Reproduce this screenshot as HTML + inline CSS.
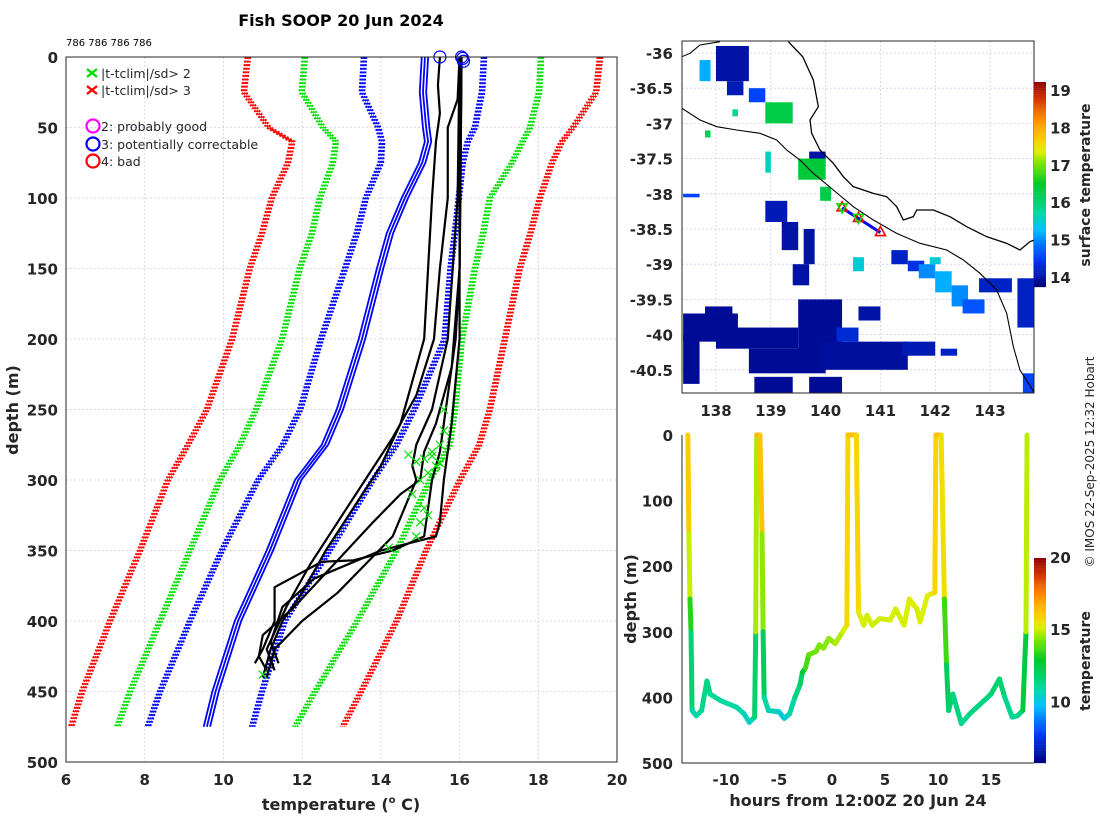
<!DOCTYPE html>
<html><head><meta charset="utf-8"><style>
html,body{margin:0;padding:0;background:#fff;}
svg{display:block;font-family:"DejaVu Sans","Liberation Sans",sans-serif;}
.tk{font-size:15px;font-weight:bold;fill:#262626;}
</style></head><body>
<svg id="fig" width="1100" height="820" viewBox="0 0 1100 820" xmlns="http://www.w3.org/2000/svg">
<text x="341" y="26" text-anchor="middle" font-size="16" font-weight="bold">Fish SOOP 20 Jun 2024</text>
<text x="66" y="46" font-size="10">786 786 786 786</text>
<text transform="translate(18,410) rotate(-90)" text-anchor="middle" font-size="16" font-weight="bold" fill="#262626">depth (m)</text>
<text x="341" y="810" text-anchor="middle" font-size="16" font-weight="bold" fill="#262626">temperature (<tspan font-size="10" dy="-7">o</tspan><tspan dy="7"> C)</tspan></text>
<text transform="translate(636,599) rotate(-90)" text-anchor="middle" font-size="16" font-weight="bold" fill="#262626">depth (m)</text>
<text x="858" y="806" text-anchor="middle" font-size="16" font-weight="bold" fill="#262626">hours from 12:00Z 20 Jun 24</text>
<text transform="translate(1090,185) rotate(-90)" text-anchor="middle" font-size="14" font-weight="bold" fill="#262626">surface temperature</text>
<text transform="translate(1090,661) rotate(-90)" text-anchor="middle" font-size="14" font-weight="bold" fill="#262626">temperature</text>
<text transform="translate(1094,462) rotate(-90)" text-anchor="middle" font-size="12" fill="#262626">© IMOS 22-Sep-2025 12:32 Hobart</text>
<g id="left"></g>
<g id="map"></g>
<g id="br"></g>
</svg>
<script>
// ---------- data: left profile plot ----------
const climDepths = [0,25,50,60,75,100,125,150,200,250,275,300,350,400,450,475];
const redLeft   = [10.62,10.52,11.15,11.75,11.64,11.23,10.98,10.67,10.22,9.58,9.10,8.59,7.88,7.12,6.41,6.13];
const greenLeft = [12.07,11.99,12.53,12.86,12.78,12.45,12.25,11.94,11.49,10.83,10.42,9.91,9.15,8.39,7.63,7.30];
const blueLeft  = [13.57,13.52,13.93,14.03,14.00,13.62,13.39,13.09,12.48,11.95,11.51,10.88,9.96,9.15,8.39,8.08];
const blueSolid = [15.12,15.07,15.15,15.20,15.05,14.61,14.23,13.98,13.52,12.96,12.58,11.90,11.18,10.37,9.80,9.58];
const blueRight = [16.62,16.57,16.39,16.21,16.08,15.98,15.88,15.77,15.62,14.85,14.40,13.80,12.70,11.56,10.98,10.73];
const greenRight= [18.07,18.02,17.79,17.60,17.33,16.77,16.60,16.39,16.06,15.88,15.75,15.25,14.40,13.40,12.33,11.82];
const redRight  = [19.57,19.47,18.88,18.60,18.35,18.04,17.80,17.53,17.15,16.77,16.50,16.01,15.15,14.40,13.50,13.03];
const prof1 = [[0,16.05],[100,16.02],[150,16.0],[200,15.9],[250,15.65],[280,15.5],[300,15.3],[320,15.2],[340,15.1],[350,14.3],[357,13.3],[358,12.5],[376,11.3],[400,11.3],[420,11.0],[430,10.8]];
const prof2 = [[0,15.5],[20,15.45],[40,15.5],[60,15.4],[100,15.3],[150,15.2],[200,15.1],[230,14.8],[260,14.5],[290,14.0],[320,13.3],[350,12.6],[380,12.0],[400,11.5],[420,11.2],[440,11.0]];
const prof3 = [[0,16.0],[30,15.95],[50,15.7],[100,15.7],[150,15.5],[200,15.35],[240,14.9],[270,14.3],[300,13.6],[330,12.9],[360,12.2],[390,11.6],[420,11.1],[435,11.3]];
const prof4 = [[0,16.0],[100,15.95],[200,15.7],[250,15.3],[275,14.9],[290,14.8],[300,14.9],[320,14.6],[340,14.3],[360,13.6],[380,12.9],[400,12.0],[420,11.3],[440,11.1]];
const prof5 = [[0,16.05],[150,16.0],[220,15.8],[260,15.4],[280,15.1],[300,15.0],[310,14.5],[330,13.8],[360,12.8],[390,11.8],[410,11.0],[425,10.9],[435,11.1]];
const prof6 = [[0,16.0],[200,16.0],[260,15.8],[300,15.6],[330,15.5],[340,15.4],[345,14.7],[350,14.0],[370,12.3],[390,11.5],[415,11.2],[430,11.4]];
const flagT = [15.6,15.6,15.5,15.3,15.1,15.4,15.2,15.0,14.8,15.1,15.0,15.2,14.9,14.2,15.3,15.5,14.7,14.9,11.0];
const flagD = [250,265,275,280,285,290,295,300,310,320,330,325,340,348,283,288,282,287,438];
const circT = [15.5,16.05,16.08,16.1];
const circD = [0,0,1,3];
const xTicks = [6,8,10,12,14,16,18,20];
const yTicks = [0,50,100,150,200,250,300,350,400,450,500];
// ---------- data: depth-time plot ----------
const hrs   = [-13.6,-13.5,-13.4,-13.3,-13.2,-12.8,-12.3,-11.8,-11.5,-10.5,-9,-8.3,-7.8,-7.3,-7.2,-7.1,-6.8,-6.6,-6.5,-6.4,-6,-5,-4.5,-4,-3.5,-3,-2.8,-2.5,-2.2,-1.5,-1.2,-0.8,-0.3,0.3,1,1.4,1.5,2.3,2.5,3,3.3,3.8,4.5,5.5,6,6.8,7.3,8,8.3,9,9.7,9.8,10.3,10.6,10.8,11,11.4,12.2,13,15,15.8,16.3,17,17.5,18,18.3,18.4];
const dep   = [0,150,250,300,420,428,420,375,395,405,415,425,438,430,300,0,0,150,300,400,420,422,432,425,400,380,362,355,335,330,320,325,310,318,300,290,0,0,270,290,275,290,280,282,265,290,250,265,285,245,240,0,0,250,350,420,395,440,425,395,372,400,430,428,420,300,0];
const tmp   = [16.4,15.8,14.2,12.5,10.8,10.8,11,11.5,11.2,11,10.9,10.8,10.5,10.6,13,16.5,16.5,16,13,11,10.8,10.5,10,10.5,11.2,11.8,12,13.5,14,14.2,14.3,14.4,14.5,14.6,15,15.2,16.3,16.3,15.4,15,15.2,15,15,15.1,15.2,15,15.3,15.2,15,15.3,15.4,16.3,16.3,14.8,12.5,11.5,12,11,11.2,11.6,11.8,11.5,11,11,11.5,13.5,16.3];
const hTicks = [-10,-5,0,5,10,15];
const dTicks = [0,100,200,300,400,500];
const cb2Ticks = [10,15,20];
// ---------- data: map ----------
const lonTicks = [138,139,140,141,142,143];
const latTicks = [-36,-36.5,-37,-37.5,-38,-38.5,-39,-39.5,-40,-40.5];
const cb1Ticks = [14,15,16,17,18,19];
const sstPatches = [
[137.4,-39.7,138.4,-40.1,13.9],[137.4,-40.0,137.7,-40.7,13.9],[138.0,-39.9,139.5,-40.2,13.9],[138.6,-40.2,140.0,-40.55,13.9],
[139.5,-39.5,140.3,-40.3,13.9],[139.9,-40.1,141.5,-40.5,13.95],[140.6,-39.6,141.0,-39.8,14.0],[141.4,-40.1,142.0,-40.3,14.1],
[138.7,-40.6,139.4,-40.85,13.9],[139.7,-40.6,140.3,-40.85,13.9],[137.8,-39.6,138.3,-39.7,13.9],[143.6,-40.55,143.8,-40.85,14.6],
[143.5,-39.2,143.8,-39.9,14.2],[142.8,-39.2,143.4,-39.4,14.2],[138.0,-35.9,138.6,-36.4,14.0],[138.2,-36.4,138.5,-36.6,14.1],
[137.7,-36.1,137.9,-36.4,15.2],[138.6,-36.5,138.9,-36.7,14.6],[138.9,-36.7,139.4,-37.0,16.3],[139.7,-37.4,140.0,-37.6,14.0],
[139.5,-37.5,140.0,-37.8,16.4],[139.9,-37.9,140.1,-38.1,16.3],[138.9,-38.1,139.3,-38.4,14.1],[139.2,-38.4,139.5,-38.8,14.0],
[139.6,-38.5,139.8,-39.0,14.0],[139.4,-39.0,139.7,-39.3,14.0],[138.9,-37.4,139.0,-37.7,15.6],[140.5,-38.9,140.7,-39.1,15.5],
[141.2,-38.8,141.5,-39.0,14.2],[141.5,-38.95,141.8,-39.1,14.4],[141.7,-39.0,142.0,-39.2,15.0],[142.0,-39.1,142.3,-39.4,15.2],
[142.3,-39.3,142.6,-39.6,15.0],[142.5,-39.5,142.9,-39.7,14.7],[141.9,-38.9,142.1,-39.0,15.5],[137.4,-38.0,137.7,-38.05,14.6],
[140.2,-39.9,140.6,-40.1,14.3],[142.1,-40.2,142.4,-40.3,14.2],[138.3,-36.8,138.4,-36.9,15.8],[137.8,-37.1,137.9,-37.2,16.2]];
const coastLon = [[505,35],[548,80],[580,150],[595,230],[570,270],[575,310],[600,360],[640,400],[670,440],[700,470],[760,490],[800,500],[830,530],[850,570],[880,560],[890,540],[940,540],[990,560],[1040,590],[1100,620],[1160,640],[1200,660],[1230,635],[1243,630]];
const shelfLine = [[186,235],[240,270],[290,290],[350,300],[420,310],[470,330],[500,360],[540,390],[580,430],[640,480],[700,530],[760,570],[830,610],[900,640],[980,660],[1030,690],[1080,730],[1130,780],[1160,850],[1180,950],[1200,1020],[1243,1088]];
const trackLon = [140.3,140.6,141.0];
const trackLat = [-38.2,-38.35,-38.55];

const NS="http://www.w3.org/2000/svg";
function mk(parent,tag,attrs){const e=document.createElementNS(NS,tag);for(const k in attrs)e.setAttribute(k,attrs[k]);parent.appendChild(e);return e;}
function jet(v,lo,hi){
  let f=Math.max(0,Math.min(1,(v-lo)/(hi-lo)));
  const st=[[0,[0,0,128]],[0.15,[0,64,255]],[0.28,[0,192,255]],[0.36,[0,216,160]],[0.5,[0,200,40]],[0.6,[120,230,0]],[0.66,[220,240,0]],[0.72,[255,205,0]],[0.82,[255,140,0]],[0.92,[210,50,0]],[1,[140,0,0]]];
  for(let i=1;i<st.length;i++){if(f<=st[i][0]){const a=st[i-1],b=st[i],t=(f-a[0])/(b[0]-a[0]);const c=a[1].map((x,j)=>Math.round(x+(b[1][j]-x)*t));return `rgb(${c[0]},${c[1]},${c[2]})`;}}
  return 'rgb(140,0,0)';
}
// ========== LEFT ==========
const L=document.getElementById('left');
const X=t=>66+(t-6)*(551/14), Y=d=>57+d*1.41;
xTicks.forEach(t=>{const g=mk(L,'line',{x1:X(t),x2:X(t),y1:57,y2:762,stroke:'#d8c8d8','stroke-dasharray':'2 2','stroke-width':0.8});


const tx=mk(L,'text',{x:X(t),y:785,'text-anchor':'middle',class:'tk'});tx.textContent=t;

});
yTicks.forEach(d=>{const g=mk(L,'line',{x1:66,x2:617,y1:Y(d),y2:Y(d),stroke:'#c8d0ec','stroke-dasharray':'2 2','stroke-width':0.8});


const tx=mk(L,'text',{x:58,y:Y(d)+6,'text-anchor':'end',class:'tk'});tx.textContent=d;

});
function climLine(arr,col,dotted,name){
  const offs=dotted?[-2.2,0,2.2]:[-3.2,0,3.2];
  offs.forEach(off=>{
    const pts=arr.map((t,i)=>`${X(t)+off},${Y(climDepths[i])}`).join(' ');
    const p=mk(L,'polyline',{points:pts,fill:'none',stroke:col,'stroke-width':dotted?2.2:1.8,'stroke-dasharray':dotted?'2 1.6':'none'});
    
    
  });
}
climLine(redLeft,'#ff0000',true,'clim-minus3sd-line');
climLine(greenLeft,'#00e000',true,'clim-minus2sd-line');
climLine(blueLeft,'#0000ff',true,'clim-minus1sd-line');
climLine(blueRight,'#0000ff',true,'clim-plus1sd-line');
climLine(greenRight,'#00e000',true,'clim-plus2sd-line');
climLine(redRight,'#ff0000',true,'clim-plus3sd-line');
climLine(blueSolid,'#0000ff',false,'flagged-profile-line');
[prof1,prof2,prof3,prof4,prof5,prof6].forEach(pr=>{
  const p=mk(L,'polyline',{points:pr.map(q=>`${X(q[1])},${Y(q[0])}`).join(' '),fill:'none',stroke:'#000','stroke-width':2.2,'stroke-linejoin':'round'});
  
  
});
flagT.forEach((t,i)=>{const x=X(t),y=Y(flagD[i]);const p=mk(L,'path',{d:`M${x-4},${y-4}L${x+4},${y+4}M${x-4},${y+4}L${x+4},${y-4}`,stroke:'#00e000','stroke-width':1.2});

});
circT.forEach((t,i)=>{const c=mk(L,'circle',{cx:X(t),cy:Y(circD[i]),r:6,fill:'none',stroke:'#0000ff','stroke-width':1.2});

});
const fr=mk(L,'rect',{x:66,y:57,width:551,height:705,fill:'none',stroke:'#262626','stroke-width':1});


const leg=[['x','#00e000','|t-tclim|/sd> 2',74],['x','#ff0000','|t-tclim|/sd> 3',91],['o','#ff00ff','2: probably good',127],['o','#0000ff','3: potentially correctable',145],['o','#ff0000','4: bad',162]];
leg.forEach(l=>{
  let m;
  if(l[0]==='x'){m=mk(L,'path',{d:`M${87},${l[3]-5}L${97},${l[3]+3}M${87},${l[3]+3}L${97},${l[3]-5}`,stroke:l[1],'stroke-width':2.4});}
  else{m=mk(L,'circle',{cx:93,cy:l[3]-1,r:6.5,fill:'none',stroke:l[1],'stroke-width':2.2});}
  
  
  const t=mk(L,'text',{x:101,y:l[3]+4,'font-size':12.5,fill:'#262626'});t.textContent=l[2];
  
  
});
// ========== MAP ==========
const M=document.getElementById('map');
const lx=l=>716+(l-138)*54.8, ly=a=>53+(-36-a)*70.4;
const zx=x=>620+x/3, zy=y=>30+y/3;
const cp=mk(M,'clipPath',{id:'mclip'});mk(cp,'rect',{x:682,y:41,width:352,height:352});
const mg=mk(M,'g',{'clip-path':'url(#mclip)'});
lonTicks.forEach(l=>{const g=mk(mg,'line',{x1:lx(l),x2:lx(l),y1:41,y2:393,stroke:'#c8d0ec','stroke-dasharray':'2 2','stroke-width':0.8});

});
latTicks.forEach(a=>{const g=mk(mg,'line',{x1:682,x2:1034,y1:ly(a),y2:ly(a),stroke:'#c8d0ec','stroke-dasharray':'2 2','stroke-width':0.8});

});
sstPatches.forEach(p=>{const r=mk(mg,'rect',{x:lx(p[0]),y:ly(p[1]),width:lx(p[2])-lx(p[0]),height:ly(p[3])-ly(p[1]),fill:jet(p[4],13.76,19.24)});

});
const c1=mk(mg,'polyline',{points:coastLon.map(q=>`${zx(q[0])},${zy(q[1])}`).join(' '),fill:'none',stroke:'#000','stroke-width':1.3});


const c2=mk(mg,'polyline',{points:shelfLine.map(q=>`${zx(q[0])},${zy(q[1])}`).join(' '),fill:'none',stroke:'#000','stroke-width':1.1});


const c3=mk(mg,'polyline',{points:[[186,80],[210,70],[240,45],[300,35]].map(q=>`${zx(q[0])},${zy(q[1])}`).join(' '),fill:'none',stroke:'#000','stroke-width':1.1});


const tr=mk(mg,'polyline',{points:trackLon.map((l,i)=>`${lx(l)},${ly(trackLat[i])}`).join(' '),fill:'none',stroke:'#0000ff','stroke-width':3});


trackLon.forEach((l,i)=>{const x=lx(l),y=ly(trackLat[i]);
const t1=mk(mg,'path',{d:`M${x},${y-6}L${x+5},${y+3}L${x-5},${y+3}Z`,fill:'none',stroke:'#ff0000','stroke-width':1.6});


if(i<2){const t2=mk(mg,'path',{d:`M${x},${y+5}L${x+5},${y-4}L${x-5},${y-4}Z`,fill:'none',stroke:'#00e000','stroke-width':1.6});

}});
const mf=mk(M,'rect',{x:682,y:41,width:352,height:352,fill:'none',stroke:'#262626','stroke-width':1});


lonTicks.forEach(l=>{const t=mk(M,'text',{x:lx(l),y:416,'text-anchor':'middle',class:'tk'});t.textContent=l;

});
latTicks.forEach(a=>{const t=mk(M,'text',{x:673,y:ly(a)+6,'text-anchor':'end',class:'tk'});t.textContent=a;

});
for(let i=0;i<100;i++){const y0=82+i*2.05;const v=19.24-(i+0.5)*(19.24-13.76)/100;const r=mk(M,'rect',{x:1034,y:y0,width:12,height:2.2,fill:jet(v,13.76,19.24)});

}
cb1Ticks.forEach(v=>{const y=287-(v-13.76)*(205/5.48);const t=mk(M,'text',{x:1050,y:y+5,class:'tk','font-size':14});t.textContent=v;

});
// ========== DEPTH-TIME ==========
const B=document.getElementById('br');
const hx=h=>832+h*10.6, hy=d=>435+d*0.656;
for(let i=1;i<hrs.length;i++){const s=mk(B,'line',{x1:hx(hrs[i-1]),y1:hy(dep[i-1]),x2:hx(hrs[i]),y2:hy(dep[i]),stroke:jet((tmp[i-1]+tmp[i])/2,5.8,20),'stroke-width':5,'stroke-linecap':'round'});

}
const ax=mk(B,'path',{d:'M682,435L682,763L1034,763',fill:'none',stroke:'#262626','stroke-width':1});


hTicks.forEach(h=>{const t=mk(B,'text',{x:hx(h),y:785,'text-anchor':'middle',class:'tk'});t.textContent=h;

});
dTicks.forEach(d=>{const t=mk(B,'text',{x:673,y:hy(d)+6,'text-anchor':'end',class:'tk'});t.textContent=d;

});
for(let i=0;i<100;i++){const y0=558+i*2.05;const v=20-(i+0.5)*14.2/100;const r=mk(B,'rect',{x:1034,y:y0,width:12,height:2.2,fill:jet(v,5.8,20)});

}
cb2Ticks.forEach(v=>{const y=763-(v-5.8)*(205/14.2);const t=mk(B,'text',{x:1050,y:y+5,class:'tk','font-size':14});t.textContent=v;

});
</script>
</body></html>
